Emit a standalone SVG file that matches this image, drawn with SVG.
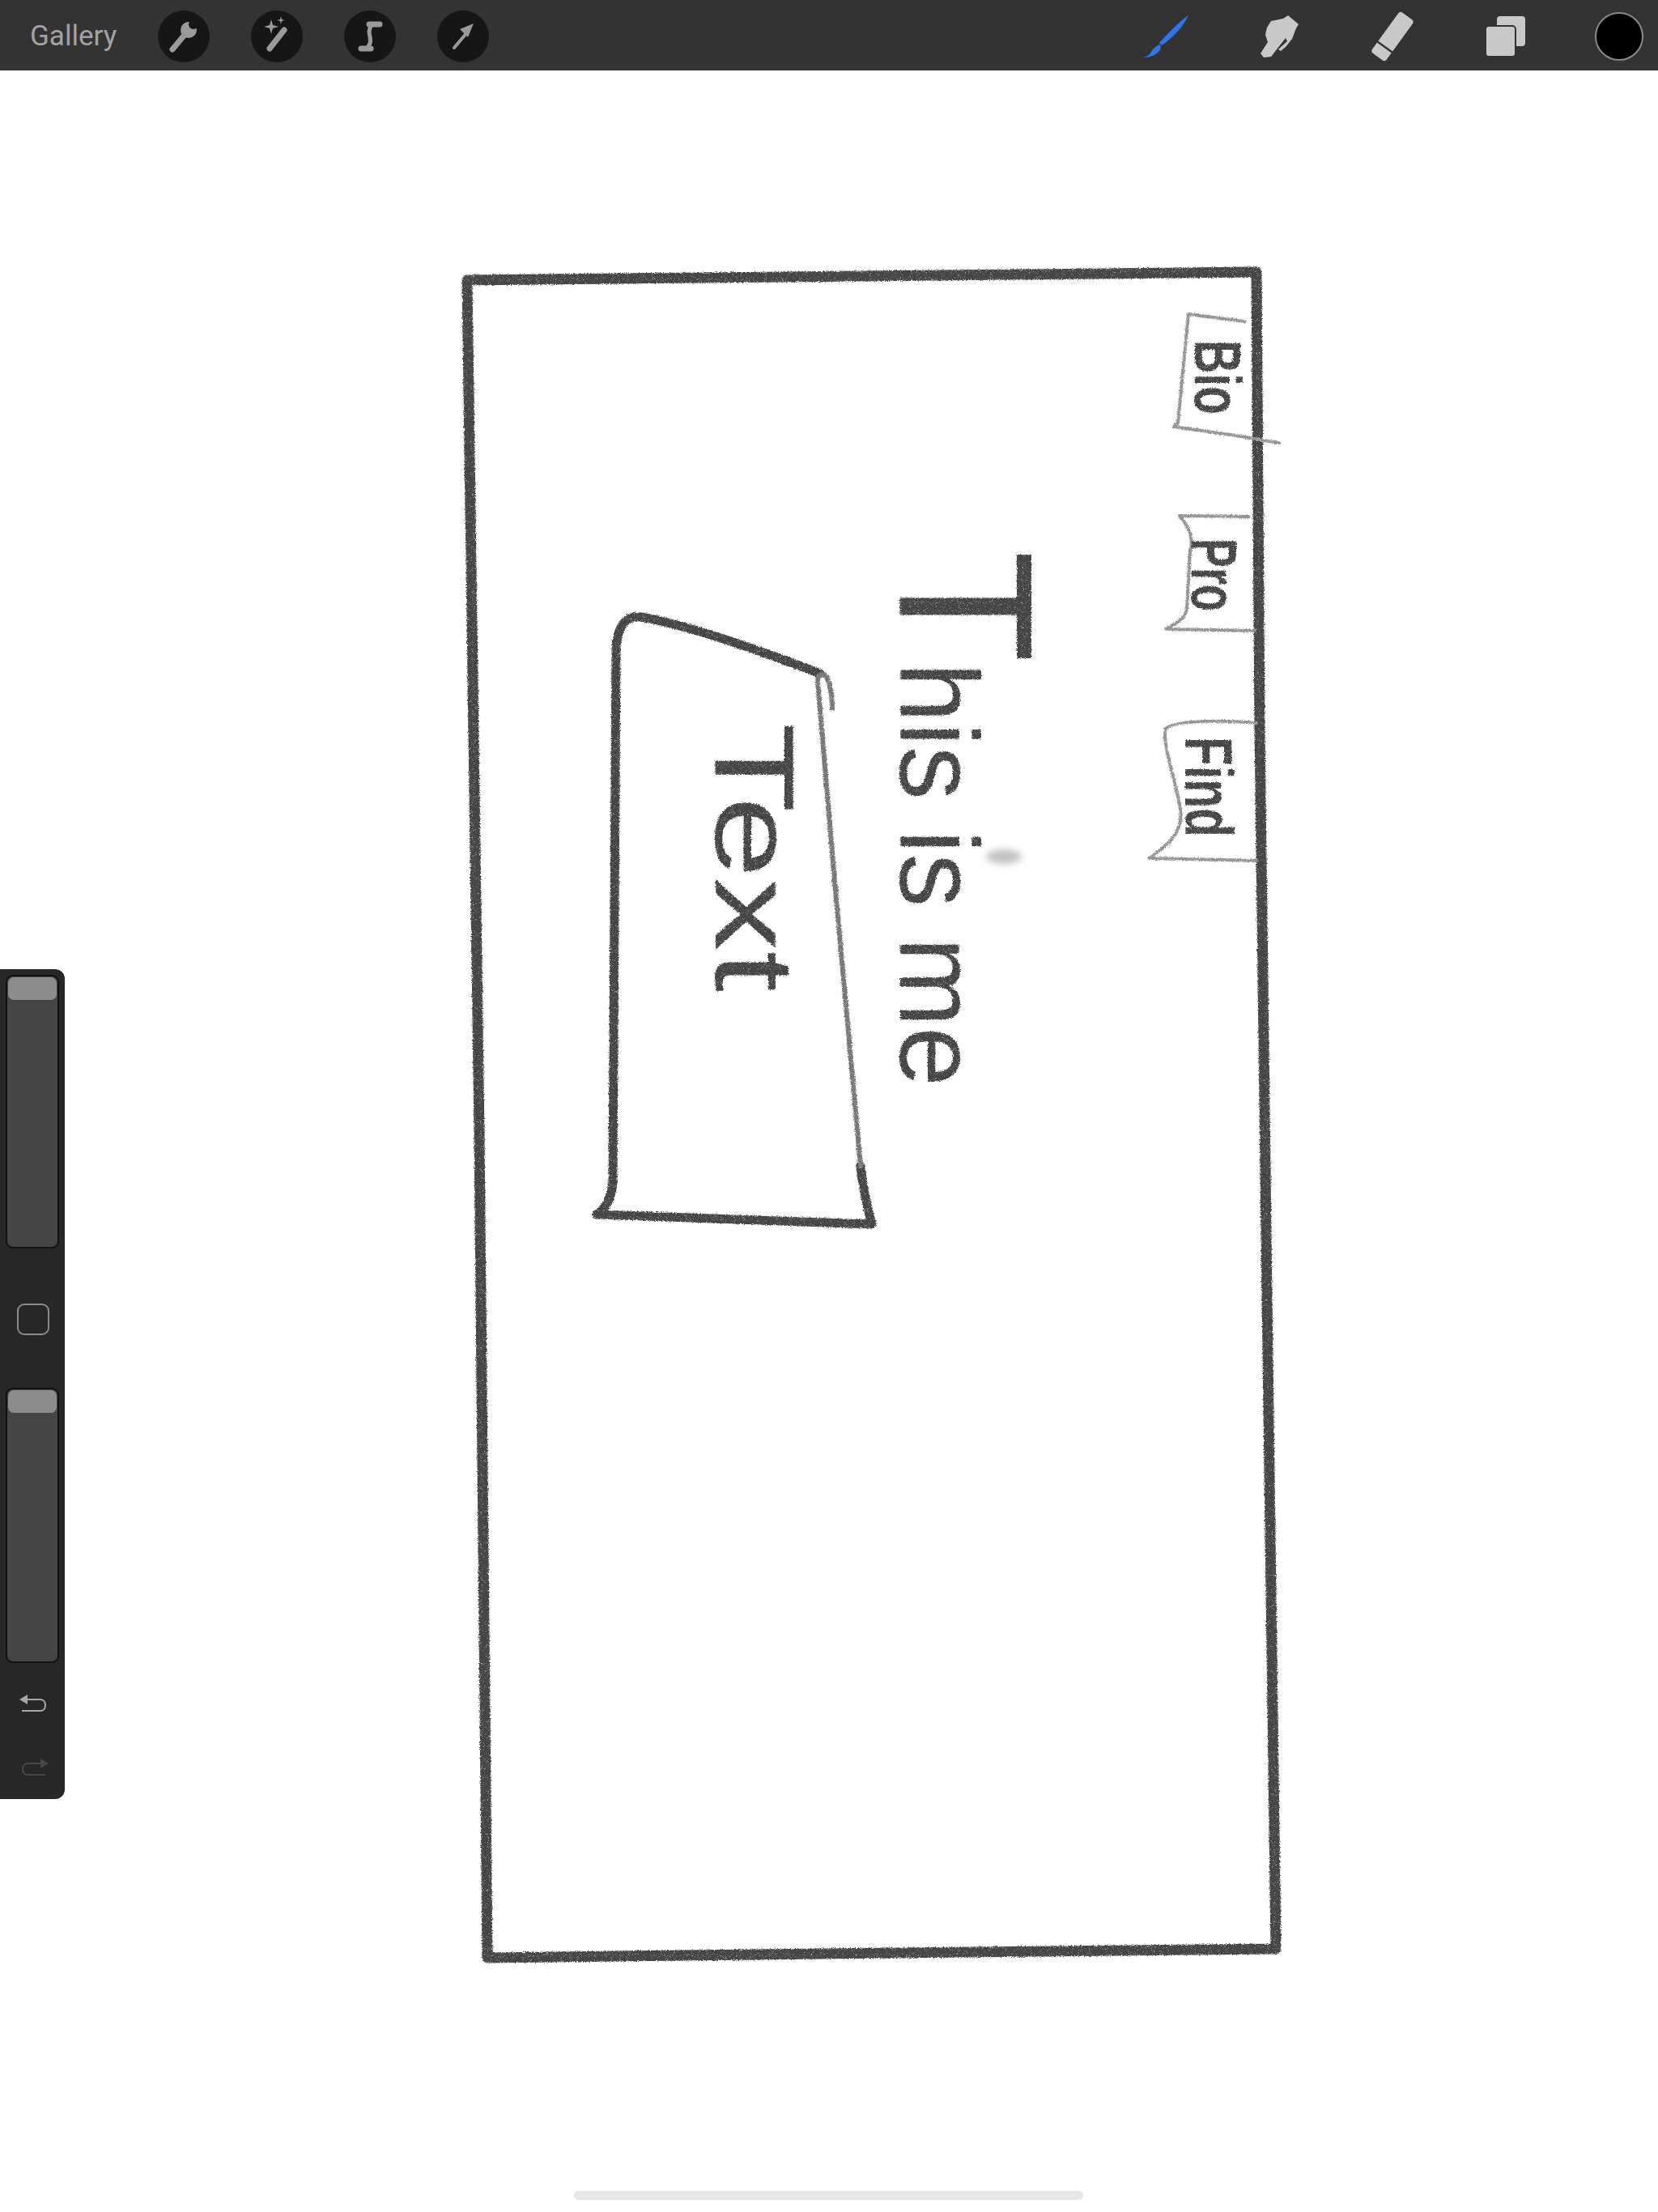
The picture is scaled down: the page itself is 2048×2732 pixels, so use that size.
<svg xmlns="http://www.w3.org/2000/svg" width="2048" height="2732" viewBox="0 0 2048 2732">
<style>
.bar{fill:#333333}
.tool{fill:#161616}
.glyph{fill:#9a9a9a}
.gstroke{stroke:#9a9a9a;fill:none;stroke-linecap:round;stroke-linejoin:round}
.ricon{fill:#c8c8c8}
.pencil{fill:none;stroke:#444444;stroke-linecap:round;stroke-linejoin:round}
.light{fill:none;stroke:#949494;stroke-width:4;stroke-linecap:round;stroke-linejoin:round}
.hand{font-family:"Liberation Sans","DejaVu Sans",sans-serif;fill:#454545}
.track{fill:#454545;stroke:#111;stroke-width:2}
.knob{fill:#8c8c8c}
</style>
<defs>
<filter id="grain" x="-5%" y="-5%" width="110%" height="110%">
<feTurbulence type="fractalNoise" baseFrequency="1.1" numOctaves="1" seed="7" result="n"/>
<feColorMatrix in="n" type="matrix" values="0 0 0 0 0  0 0 0 0 0  0 0 0 0 0  2.2 0 0 0 0.05" result="mask"/>
<feComposite in="SourceGraphic" in2="mask" operator="in" result="g"/>
<feTurbulence type="fractalNoise" baseFrequency="0.8" numOctaves="2" seed="3" result="d"/>
<feDisplacementMap in="g" in2="d" scale="4" xChannelSelector="R" yChannelSelector="G"/>
</filter>
<filter id="blur" x="-50%" y="-50%" width="200%" height="200%"><feGaussianBlur stdDeviation="4"/></filter>
</defs>
<rect width="2048" height="2732" fill="#ffffff"/>

<!-- toolbar -->
<g id="toolbar">
<rect class="bar" x="0" y="0" width="2048" height="87"/>
<text x="37" y="56" font-family="Roboto,'Liberation Sans',sans-serif" font-size="35" fill="#a2a2a2">Gallery</text>
<g id="wrench"><circle class="tool" cx="227" cy="45" r="32"/>
<line class="gstroke" x1="213" y1="61" x2="228" y2="43" stroke-width="7"/>
<circle class="glyph" cx="233" cy="37" r="10"/><circle class="tool" cx="239" cy="30" r="6"/></g>
<g id="wand"><circle class="tool" cx="342" cy="45" r="32"/>
<line class="gstroke" x1="333" y1="60" x2="351" y2="37" stroke-width="7"/>
<path class="glyph" d="M335,24 L337,31 L344,33 L337,35 L335,42 L333,35 L326,33 L333,31Z"/>
<path class="glyph" d="M347,20 L348,24 L352,25 L348,26 L347,30 L346,26 L342,25 L346,24Z"/></g>
<g id="select"><circle class="tool" cx="457" cy="45" r="32"/>
<line class="gstroke" x1="456" y1="30" x2="469" y2="30" stroke-width="7"/>
<path class="gstroke" d="M458,33 C452,40 462,50 455,57" stroke-width="5"/>
<line class="gstroke" x1="446" y1="60" x2="458" y2="60" stroke-width="7"/></g>
<g id="transform"><circle class="tool" cx="572" cy="45" r="32"/>
<line class="gstroke" x1="561" y1="59" x2="577" y2="40" stroke-width="4"/>
<path class="glyph" d="M585,29 L568,36 L578,46Z"/></g>
<g id="brush"><path fill="#3173ea" d="M1468,19 C1461,34 1447,48 1435,56 L1432,53 C1442,42 1455,28 1468,19Z M1432,55 C1427,58 1424,60 1422,64 C1420,68 1416,70 1412,71 C1421,71 1428,68 1432,63 C1434,60 1435,57 1432,55Z"/></g>
<g id="smudge"><path class="ricon" d="M1591,19 L1604,30 L1601,35 L1596,48 L1588,58 L1582,63 L1579,61 L1590,51 L1588,47 L1570,70 L1561,71 L1557,66 L1566,52 L1563,43 L1565,34 L1570,26 L1585,23Z"/></g>
<g id="eraser" transform="translate(1720,45) rotate(-54)"><rect class="ricon" x="-31" y="-11" width="62" height="22" rx="4"/><line x1="-16" y1="-12" x2="-16" y2="12" stroke="#333" stroke-width="2.5"/></g>
<g id="layers"><rect class="ricon" x="1849" y="20" width="35" height="37" rx="4"/><rect class="ricon" x="1835" y="32" width="37" height="38" rx="4" stroke="#333" stroke-width="2"/></g>
<g id="colour"><circle cx="2000" cy="45" r="29" fill="#000" stroke="#8a8a8a" stroke-width="2"/></g>
</g>

<!-- side bar -->
<g id="sidebar">
<rect x="-12" y="1197" width="92" height="1025" rx="12" fill="#272727"/>
<rect class="track" x="8" y="1205" width="64" height="336" rx="8"/>
<rect class="knob" x="10" y="1207" width="60" height="28" rx="7"/>
<rect x="22" y="1611" width="38" height="37" rx="8" fill="none" stroke="#8a8a8a" stroke-width="2"/>
<rect class="track" x="8" y="1715" width="64" height="338" rx="8"/>
<rect class="knob" x="10" y="1717" width="60" height="28" rx="7"/>
<path d="M34,2099 L50,2099 C58,2099 58,2113 50,2113 L27,2113" fill="none" stroke="#a8a8a8" stroke-width="2"/>
<path d="M24,2099 L34,2093 L34,2105Z" fill="#a8a8a8"/>
<path d="M56,2192 L34,2192 C26,2192 26,2178 34,2178 L50,2178" fill="none" stroke="#474747" stroke-width="2"/>
<path d="M60,2178 L50,2172 L50,2184Z" fill="#474747"/>
</g>

<!-- sketch -->
<g id="sketch" filter="url(#grain)">
<g id="frame"><path class="pencil" stroke-width="13" d="M577,346 L1060,341 L1552,336 L1556,900 L1565,1600 L1576,2407 L1100,2412 L602,2418 L592,1400 L577,346Z"/></g>

<g id="tab-bio">
<path class="light" d="M1537,397 L1468,388 L1455,522 L1450,527 L1520,537 L1580,547"/>
<text class="hand" font-weight="bold" font-size="82" transform="translate(1476,420) rotate(90)" textLength="92" lengthAdjust="spacingAndGlyphs">Bio</text>
</g>
<g id="tab-pro">
<path class="light" d="M1543,638 L1457,637 C1468,650 1475,665 1470,680 L1466,752 C1463,768 1447,772 1440,777 L1550,779"/>
<text class="hand" font-weight="bold" font-size="80" transform="translate(1472,665) rotate(90)" textLength="90" lengthAdjust="spacingAndGlyphs">Pro</text>
</g>
<g id="tab-find">
<path class="light" stroke="#707070" stroke-width="5" d="M1552,893 C1520,890 1452,888 1440,900 C1435,920 1452,960 1458,1000 C1462,1030 1440,1045 1420,1060 L1552,1063"/>
<text class="hand" font-weight="bold" font-size="84" transform="translate(1464,910) rotate(90)" textLength="124" lengthAdjust="spacingAndGlyphs">Find</text>
</g>

<g id="title">
<text class="hand" transform="translate(1112,680) rotate(90)" textLength="662" lengthAdjust="spacingAndGlyphs"><tspan font-size="235">T</tspan><tspan font-size="138">his is me</tspan></text>
</g>

<g id="text-box">
<path class="pencil" stroke-width="11" d="M1013,832 C930,800 850,772 792,762 C772,759 763,775 761,800 L757,1460 C755,1485 745,1495 737,1500 L1077,1512 C1071,1490 1066,1470 1063,1440"/>
<path fill="none" stroke="#777777" stroke-width="6" stroke-linecap="round" d="M1063,1440 L1032,1100 L1010,842 C1010,835 1015,829 1021,836 C1025,845 1028,860 1028,875"/>
<text class="hand" font-size="140" transform="translate(884,893) rotate(90)" textLength="332" lengthAdjust="spacingAndGlyphs">Text</text>
</g>
</g>
<ellipse cx="1240" cy="1058" rx="22" ry="9" fill="#9a9a9a" opacity="0.6" filter="url(#blur)"/>

<!-- home indicator -->
<rect x="709" y="2706" width="629" height="11" rx="5.5" fill="#e6e6e6"/>
</svg>
